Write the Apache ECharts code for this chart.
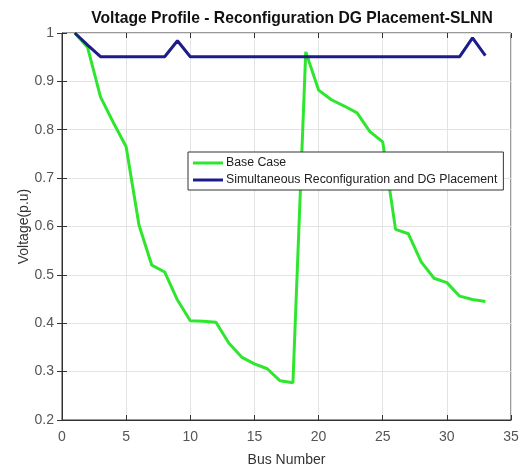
<!DOCTYPE html>
<html>
<head>
<meta charset="utf-8">
<script src="https://cdn.jsdelivr.net/npm/echarts@6/dist/echarts.min.js"></script>
<style>
  html, body { margin: 0; padding: 0; background: #fff; }
  #chart { width: 522px; height: 468px; }
</style>
</head>
<body>
<div id="chart"></div>
<script>
// bus numbers 1..33
var buses = [1, 2, 3, 4, 5, 6, 7, 8, 9, 10, 11, 12, 13, 14, 15, 16, 17,
  18, 19, 20, 21, 22, 23, 24, 25, 26, 27, 28, 29, 30, 31, 32, 33]
var baseCase = [1.0, 0.97, 0.868, 0.815, 0.765, 0.603, 0.52, 0.506, 0.448, 0.405,
  0.404, 0.402, 0.359, 0.33, 0.316, 0.306, 0.281, 0.277, 0.961, 0.882,
  0.862, 0.849, 0.835, 0.796, 0.775, 0.594, 0.585, 0.527, 0.493, 0.484,
  0.456, 0.449, 0.445]
var reconfigDG = [1.0, 0.975, 0.951, 0.951, 0.951, 0.951, 0.951, 0.951, 0.984, 0.951,
  0.951, 0.951, 0.951, 0.951, 0.951, 0.951, 0.951, 0.951, 0.951, 0.951,
  0.951, 0.951, 0.951, 0.951, 0.951, 0.951, 0.951, 0.951, 0.951, 0.951,
  0.951, 0.99, 0.953]
var seriesNames = ['Base Case', 'Simultaneous Reconfiguration and DG Placement']
var colors = ['#2fe62f', '#1c1c8a']

function pairs(vals) {
  return buses.map(function (b, i) { return [b, vals[i]] })
}

var chart = echarts.init(document.getElementById('chart'))
var font = 'Liberation Sans, Arial, sans-serif'
var tickLabel = { color: '#555', fontSize: 14, fontFamily: font }

chart.setOption({
  animation: false,
  backgroundColor: '#fff',
  title: {
    text: 'Voltage Profile - Reconfiguration DG Placement-SLNN',
    left: 287,
    textAlign: 'center',
    top: 6,
    textStyle: { fontSize: 15.7, fontWeight: 'bold', color: '#111', fontFamily: font }
  },
  grid: {
    left: 62, right: 11, top: 33, bottom: 48,
    outerBoundsMode: 'none',
    containLabel: false,
    show: true, borderColor: '#333', borderWidth: 1
  },
  legend: {
    orient: 'vertical',
    left: 188,
    top: 152,
    backgroundColor: '#fff',
    borderColor: '#333',
    borderWidth: 1,
    padding: [5, 6, 4, 5],
    itemWidth: 30,
    itemHeight: 3,
    itemGap: 5,
    icon: 'rect',
    textStyle: { fontSize: 12.3, color: '#222', fontFamily: font, padding: [0, 0, 0, -2] },
    data: seriesNames
  },
  xAxis: [{
    type: 'value',
    min: 0, max: 35, interval: 5,
    name: 'Bus Number',
    nameLocation: 'middle',
    nameGap: 33,
    nameMoveOverlap: false,
    nameTextStyle: { fontSize: 14, color: '#333', fontFamily: font },
    axisLine: { lineStyle: { color: '#333' } },
    axisTick: { inside: true, length: 5, lineStyle: { color: '#333' } },
    axisLabel: Object.assign({ margin: 10 }, tickLabel),
    splitLine: { lineStyle: { color: '#e3e3e3' } }
  }, {
    type: 'value', position: 'top',
    min: 0, max: 35, interval: 5,
    axisLine: { show: false },
    axisTick: { inside: true, length: 5, lineStyle: { color: '#333' } },
    axisLabel: { show: false },
    splitLine: { show: false }
  }],
  yAxis: [{
    type: 'value',
    min: 0.2, max: 1, interval: 0.1,
    name: 'Voltage(p.u)',
    nameLocation: 'middle',
    nameGap: 31,
    nameMoveOverlap: false,
    nameTextStyle: { fontSize: 14, color: '#333', fontFamily: font },
    axisLine: { show: true, lineStyle: { color: '#333' } },
    axisTick: { inside: true, length: 5, lineStyle: { color: '#333' } },
    axisLabel: Object.assign({
      margin: 8,
      formatter: function (v) { return String(Math.round(v * 10) / 10) }
    }, tickLabel),
    splitLine: { lineStyle: { color: '#e3e3e3' } }
  }, {
    type: 'value', position: 'right',
    min: 0.2, max: 1, interval: 0.1,
    axisLine: { show: false },
    axisTick: { show: true, inside: true, length: 5, lineStyle: { color: '#333' } },
    axisLabel: { show: false },
    splitLine: { show: false }
  }],
  series: [{
    name: seriesNames[0],
    type: 'line',
    data: pairs(baseCase),
    showSymbol: false,
    color: colors[0],
    lineStyle: { width: 3, color: colors[0] }
  }, {
    name: seriesNames[1],
    type: 'line',
    data: pairs(reconfigDG),
    showSymbol: false,
    color: colors[1],
    lineStyle: { width: 3, color: colors[1] }
  }]
})
</script>
</body>
</html>
